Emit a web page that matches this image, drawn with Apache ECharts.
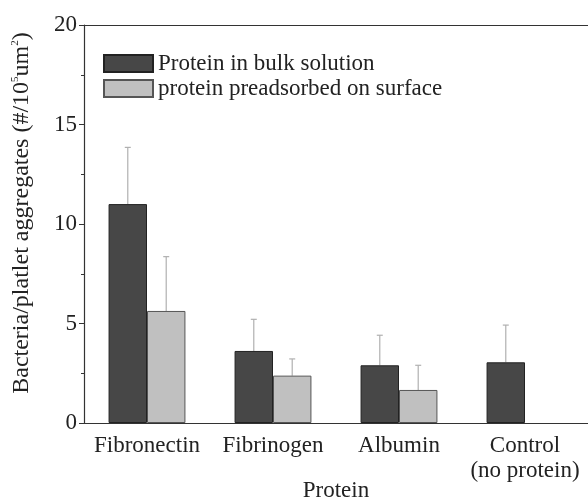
<!DOCTYPE html>
<html><head><meta charset="utf-8">
<script src="https://cdn.jsdelivr.net/npm/echarts@6/dist/echarts.min.js"></script>
<style>html,body{margin:0;padding:0;background:#fff}#c{width:588px;height:497px}</style>
</head><body><div id="c"></div>
<script>
var categories = ['Fibronectin', 'Fibrinogen', 'Albumin', 'Control\n(no protein)'];
var bulkValues = [11.0, 3.62, 2.9, 3.05];
var bulkErrTop = [13.85, 5.21, 4.41, 4.92];
var preValues = [5.63, 2.38, 1.66, null];
var preErrTop = [8.36, 3.22, 2.9, null];
var yTicks = [0, 5, 10, 15, 20];

var FONT = 'Liberation Serif';
var chart = echarts.init(document.getElementById('c'));

function errSeries(tops, vals, side) {
  var data = [];
  for (var i = 0; i < tops.length; i++) if (tops[i] != null) data.push([i, vals[i], tops[i]]);
  return {
    type: 'custom', xAxisIndex: 0, yAxisIndex: 0, z: 1, silent: true,
    data: data,
    renderItem: function (params, api) {
      var bw = api.size([1, 0])[0];
      var barW = bw * 0.305;
      var c = api.coord([api.value(0), api.value(1)]);
      var t = api.coord([api.value(0), api.value(2)]);
      var x = c[0] + side * barW / 2;
      var st = {stroke: '#b0b0b0', lineWidth: 1.2};
      return {type: 'group', children: [
        {type: 'line', shape: {x1: x, y1: c[1], x2: x, y2: t[1]}, style: st},
        {type: 'line', shape: {x1: x - 3, y1: t[1], x2: x + 3, y2: t[1]}, style: st}
      ]};
    }
  };
}

chart.setOption({
  animation: false,
  backgroundColor: '#fff',
  grid: {left: 84, top: 25, right: 0, bottom: 74, outerBoundsMode: 'none', containLabel: false},
  legend: {
    left: 103, top: 52, orient: 'vertical', itemWidth: 49, itemHeight: 17, itemGap: 2, padding: 0,
    icon: 'rect',
    textStyle: {fontFamily: FONT, fontSize: 23, color: '#222', lineHeight: 22},
    data: ['Protein in bulk solution', 'protein preadsorbed on surface']
  },
  xAxis: [{
    type: 'category', data: categories, position: 'bottom',
    name: 'Protein', nameLocation: 'middle', nameGap: 56, nameMoveOverlap: false,
    nameTextStyle: {fontFamily: FONT, fontSize: 23, color: '#222'},
    axisLine: {lineStyle: {color: '#333', width: 1.2}},
    axisTick: {alignWithLabel: true, length: 5, lineStyle: {color: '#333'}},
    axisLabel: {fontFamily: FONT, fontSize: 23, color: '#222', margin: 10, lineHeight: 25, interval: 0, hideOverlap: false}
  }, {
    type: 'category', data: categories, position: 'bottom', gridIndex: 0,
    axisLine: {show: false}, axisLabel: {show: false},
    axisTick: {length: 3, lineStyle: {color: '#333'}}
  }, {
    type: 'category', data: categories, position: 'top',
    axisLine: {lineStyle: {color: '#333', width: 1.2}},
    axisTick: {show: false}, axisLabel: {show: false}
  }],
  yAxis: {
    type: 'value', min: 0, max: 20, interval: 5,
    name: '{a|Bacteria/platlet aggregates (#/10}{s|5}{a|um}{s|2}{a|)}',
    nameLocation: 'middle', nameGap: 50, nameMoveOverlap: false,
    nameTextStyle: {padding: [0, 0, 0, 22], rich: {
      a: {fontFamily: FONT, fontSize: 24, color: '#222'},
      s: {fontFamily: FONT, fontSize: 11, color: '#222', verticalAlign: 'top', padding: [0, 0, 12, 0]}
    }},
    axisLine: {show: true, lineStyle: {color: '#333', width: 1.2}},
    axisTick: {show: true, length: 5, lineStyle: {color: '#333'}},
    minorTick: {show: true, splitNumber: 2, length: 3, lineStyle: {color: '#333'}},
    splitLine: {show: false},
    axisLabel: {fontFamily: FONT, fontSize: 23, color: '#222', margin: 7,
      formatter: function (v) { return yTicks.indexOf(v) >= 0 ? String(v) : ''; }}
  },
  series: [
    {name: 'Protein in bulk solution', type: 'bar', data: bulkValues, barWidth: '30.5%', barGap: '0%', z: 2,
      itemStyle: {color: '#474747', borderColor: '#222', borderWidth: 1}},
    {name: 'protein preadsorbed on surface', type: 'bar', data: preValues, barWidth: '30.5%', barGap: '0%', z: 2,
      itemStyle: {color: '#c0c0c0', borderColor: '#555', borderWidth: 1}},
    errSeries(bulkErrTop, bulkValues, -1),
    errSeries(preErrTop, preValues, 1)
  ]
});
</script></body></html>
